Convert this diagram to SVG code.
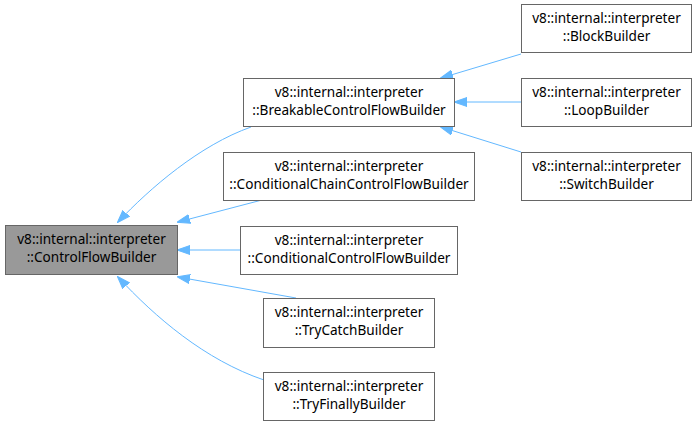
<svg xmlns="http://www.w3.org/2000/svg" width="698" height="426" viewBox="0 0 698 426">
<style>
.n rect{fill:#fff;stroke:#666;stroke-width:1}
.n.root rect{fill:#999}
.n text{font-family:"Noto Sans","Open Sans",sans-serif;font-size:13.6px;fill:#000;text-anchor:middle}
.e path{fill:none;stroke:#63b8ff;stroke-width:1}
</style>
<defs>
<marker id="ah" viewBox="0 0 13 10" refX="12" refY="5" markerWidth="13" markerHeight="10" markerUnits="userSpaceOnUse" orient="auto-start-reverse">
<path d="M0,0.5 L13,5 L0,9.5 z" fill="#63b8ff" stroke="#63b8ff"/>
</marker>
</defs>
<g class="e">
<path marker-start="url(#ah)" d="M118,222 C150,188 200,145 251,127"/>
<path marker-start="url(#ah)" d="M178,222 L262,200"/>
<path marker-start="url(#ah)" d="M178,250 L240,250"/>
<path marker-start="url(#ah)" d="M178,277 L296,298"/>
<path marker-start="url(#ah)" d="M118,277 C155,317 205,360 264,380"/>
<path marker-start="url(#ah)" d="M441,78 L521,54"/>
<path marker-start="url(#ah)" d="M455,102 L521,102"/>
<path marker-start="url(#ah)" d="M441,127 L521,152"/>
</g>
<g id="cfb" class="n root"><rect x="5.5" y="225.5" width="172" height="49"/><text x="91.5" y="244">v8::internal::interpreter</text><text x="91.5" y="262">::ControlFlowBuilder</text></g>
<g id="bcfb" class="n"><rect x="243.5" y="78.5" width="211" height="48"/><text x="349" y="97">v8::internal::interpreter</text><text x="349" y="115">::BreakableControlFlowBuilder</text></g>
<g id="cccfb" class="n"><rect x="223.5" y="152.5" width="251" height="48"/><text x="349" y="171">v8::internal::interpreter</text><text x="349" y="189">::ConditionalChainControlFlowBuilder</text></g>
<g id="ccfb" class="n"><rect x="240.5" y="226.5" width="217" height="48"/><text x="349" y="245">v8::internal::interpreter</text><text x="349" y="263">::ConditionalControlFlowBuilder</text></g>
<g id="tcb" class="n"><rect x="263.5" y="298.5" width="171" height="49"/><text x="349" y="317">v8::internal::interpreter</text><text x="349" y="335">::TryCatchBuilder</text></g>
<g id="tfb" class="n"><rect x="263.5" y="372.5" width="171" height="48"/><text x="349" y="391">v8::internal::interpreter</text><text x="349" y="409">::TryFinallyBuilder</text></g>
<g id="bb" class="n"><rect x="521.5" y="4.5" width="170" height="48"/><text x="606.5" y="23">v8::internal::interpreter</text><text x="606.5" y="41">::BlockBuilder</text></g>
<g id="lb" class="n"><rect x="521.5" y="78.5" width="170" height="48"/><text x="606.5" y="97">v8::internal::interpreter</text><text x="606.5" y="115">::LoopBuilder</text></g>
<g id="sb" class="n"><rect x="521.5" y="152.5" width="170" height="48"/><text x="606.5" y="171">v8::internal::interpreter</text><text x="606.5" y="189">::SwitchBuilder</text></g>
</svg>
